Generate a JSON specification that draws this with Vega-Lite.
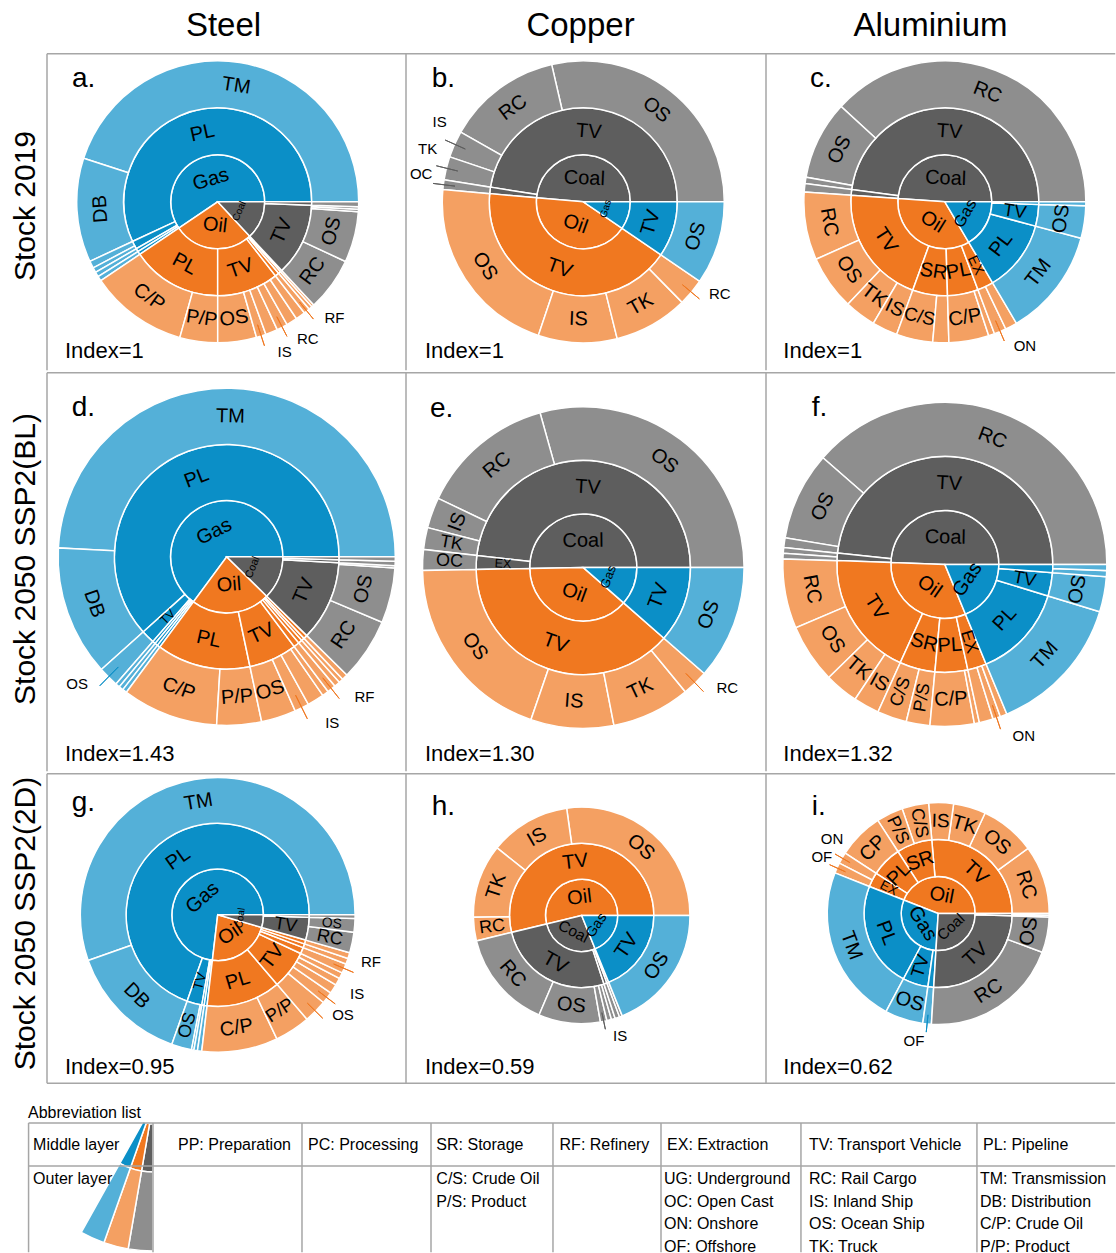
{
"$schema": "https://vega.github.io/schema/vega-lite/v6.json",
"padding": 0,
"background": "white",
"config": {"view": {"stroke": null}, "font": "Liberation Sans", "text": {"font": "Liberation Sans", "color": "black"}},
"datasets": {
"panels": [
{"p":"a","letter":"a.","idx":1,"ilab":"Index=1"},
{"p":"b","letter":"b.","idx":1,"ilab":"Index=1"},
{"p":"c","letter":"c.","idx":1,"ilab":"Index=1"},
{"p":"d","letter":"d.","idx":1.43,"ilab":"Index=1.43"},
{"p":"e","letter":"e.","idx":1.30,"ilab":"Index=1.30"},
{"p":"f","letter":"f.","idx":1.32,"ilab":"Index=1.32"},
{"p":"g","letter":"g.","idx":0.95,"ilab":"Index=0.95"},
{"p":"h","letter":"h.","idx":0.59,"ilab":"Index=0.59"},
{"p":"i","letter":"i.","idx":0.62,"ilab":"Index=0.62"}
],
"icon": [
{"lvl":2,"fuel":"Coal","v":1},{"lvl":2,"fuel":"Oil","v":1},{"lvl":2,"fuel":"Gas","v":1},
{"lvl":3,"fuel":"Coal","v":1},{"lvl":3,"fuel":"Oil","v":1},{"lvl":3,"fuel":"Gas","v":1}
],
"segs": [
{"p":"a","lvl":1,"fuel":"Gas","lab":"Gas","v":59.44},
{"p":"a","lvl":1,"fuel":"Oil","lab":"Oil","v":27.5},
{"p":"a","lvl":1,"fuel":"Coal","lab":"Coal","v":13.06},
{"p":"a","lvl":2,"fuel":"Gas","lab":"PL","v":56.94},
{"p":"a","lvl":2,"fuel":"Gas","v":1.39},
{"p":"a","lvl":2,"fuel":"Gas","v":0.56},
{"p":"a","lvl":2,"fuel":"Gas","v":0.56},
{"p":"a","lvl":2,"fuel":"Oil","lab":"PL","v":15.56},
{"p":"a","lvl":2,"fuel":"Oil","lab":"TV","v":10.56},
{"p":"a","lvl":2,"fuel":"Oil","v":0.69},
{"p":"a","lvl":2,"fuel":"Oil","v":0.42},
{"p":"a","lvl":2,"fuel":"Oil","v":0.28},
{"p":"a","lvl":2,"fuel":"Coal","lab":"TV","v":12.5},
{"p":"a","lvl":2,"fuel":"Coal","v":0.56},
{"p":"a","lvl":3,"fuel":"Gas","lab":"TM","v":45},
{"p":"a","lvl":3,"fuel":"Gas","lab":"DB","v":11.94},
{"p":"a","lvl":3,"fuel":"Gas","v":0.83},
{"p":"a","lvl":3,"fuel":"Gas","v":0.56},
{"p":"a","lvl":3,"fuel":"Gas","v":0.56},
{"p":"a","lvl":3,"fuel":"Gas","v":0.56},
{"p":"a","lvl":3,"fuel":"Oil","lab":"C/P","v":11.22},
{"p":"a","lvl":3,"fuel":"Oil","lab":"P/P","v":4.33},
{"p":"a","lvl":3,"fuel":"Oil","lab":"OS","v":4.44},
{"p":"a","lvl":3,"fuel":"Oil","co":"IS","v":1.11},
{"p":"a","lvl":3,"fuel":"Oil","v":1.39},
{"p":"a","lvl":3,"fuel":"Oil","co":"RC","v":1.25},
{"p":"a","lvl":3,"fuel":"Oil","v":1.25},
{"p":"a","lvl":3,"fuel":"Oil","v":1.11},
{"p":"a","lvl":3,"fuel":"Oil","co":"RF","v":0.69},
{"p":"a","lvl":3,"fuel":"Oil","v":0.42},
{"p":"a","lvl":3,"fuel":"Oil","v":0.28},
{"p":"a","lvl":3,"fuel":"Coal","lab":"RC","v":6.11},
{"p":"a","lvl":3,"fuel":"Coal","lab":"OS","v":5.83},
{"p":"a","lvl":3,"fuel":"Coal","v":0.28},
{"p":"a","lvl":3,"fuel":"Coal","v":0.28},
{"p":"a","lvl":3,"fuel":"Coal","v":0.56},

{"p":"b","lvl":1,"fuel":"Coal","lab":"Coal","v":48.61},
{"p":"b","lvl":1,"fuel":"Oil","lab":"Oil","v":41.86},
{"p":"b","lvl":1,"fuel":"Gas","lab":"Gas","v":9.53},
{"p":"b","lvl":2,"fuel":"Coal","lab":"TV","v":47.5},
{"p":"b","lvl":2,"fuel":"Coal","v":1.11},
{"p":"b","lvl":2,"fuel":"Oil","lab":"TV","v":41.86},
{"p":"b","lvl":2,"fuel":"Gas","lab":"TV","v":9.53},
{"p":"b","lvl":3,"fuel":"Coal","lab":"OS","v":28.61},
{"p":"b","lvl":3,"fuel":"Coal","lab":"RC","v":13.17},
{"p":"b","lvl":3,"fuel":"Coal","co":"IS","v":3.06},
{"p":"b","lvl":3,"fuel":"Coal","co":"TK","v":2.67},
{"p":"b","lvl":3,"fuel":"Coal","co":"OC","v":1.11},
{"p":"b","lvl":3,"fuel":"Oil","lab":"OS","v":21.22},
{"p":"b","lvl":3,"fuel":"Oil","lab":"IS","v":9.03},
{"p":"b","lvl":3,"fuel":"Oil","lab":"TK","v":8.5},
{"p":"b","lvl":3,"fuel":"Oil","co":"RC","v":3.11},
{"p":"b","lvl":3,"fuel":"Gas","lab":"OS","v":9.53},

{"p":"c","lvl":1,"fuel":"Coal","lab":"Coal","v":48.89},
{"p":"c","lvl":1,"fuel":"Oil","lab":"Oil","v":34.58},
{"p":"c","lvl":1,"fuel":"Gas","lab":"Gas","v":16.53},
{"p":"c","lvl":2,"fuel":"Coal","lab":"TV","v":47.92},
{"p":"c","lvl":2,"fuel":"Coal","v":0.97},
{"p":"c","lvl":2,"fuel":"Oil","lab":"TV","v":20.56},
{"p":"c","lvl":2,"fuel":"Oil","lab":"SR","v":6.0},
{"p":"c","lvl":2,"fuel":"Oil","lab":"PL","v":5.28},
{"p":"c","lvl":2,"fuel":"Oil","lab":"EX","v":2.75},
{"p":"c","lvl":2,"fuel":"Gas","lab":"PL","v":12.36},
{"p":"c","lvl":2,"fuel":"Gas","lab":"TV","v":3.72},
{"p":"c","lvl":2,"fuel":"Gas","v":0.44},
{"p":"c","lvl":3,"fuel":"Coal","lab":"RC","v":38.17},
{"p":"c","lvl":3,"fuel":"Coal","lab":"OS","v":9.03},
{"p":"c","lvl":3,"fuel":"Coal","v":0.72},
{"p":"c","lvl":3,"fuel":"Coal","v":0.97},
{"p":"c","lvl":3,"fuel":"Oil","lab":"RC","v":7.78},
{"p":"c","lvl":3,"fuel":"Oil","lab":"OS","v":6.25},
{"p":"c","lvl":3,"fuel":"Oil","lab":"TK","v":3.61},
{"p":"c","lvl":3,"fuel":"Oil","lab":"IS","v":2.92},
{"p":"c","lvl":3,"fuel":"Oil","lab":"C/S","v":4.17},
{"p":"c","lvl":3,"fuel":"Oil","v":1.83},
{"p":"c","lvl":3,"fuel":"Oil","lab":"C/P","v":4.58},
{"p":"c","lvl":3,"fuel":"Oil","v":0.69},
{"p":"c","lvl":3,"fuel":"Oil","co":"ON","v":1.39},
{"p":"c","lvl":3,"fuel":"Oil","v":1.36},
{"p":"c","lvl":3,"fuel":"Gas","lab":"TM","v":12.36},
{"p":"c","lvl":3,"fuel":"Gas","lab":"OS","v":3.72},
{"p":"c","lvl":3,"fuel":"Gas","v":0.44},

{"p":"d","lvl":1,"fuel":"Gas","lab":"Gas","v":64.86},
{"p":"d","lvl":1,"fuel":"Oil","lab":"Oil","v":22.78},
{"p":"d","lvl":1,"fuel":"Coal","lab":"Coal","v":12.36},
{"p":"d","lvl":2,"fuel":"Gas","lab":"PL","v":61.67},
{"p":"d","lvl":2,"fuel":"Gas","lab":"TV","v":1.94},
{"p":"d","lvl":2,"fuel":"Gas","v":0.42},
{"p":"d","lvl":2,"fuel":"Gas","v":0.42},
{"p":"d","lvl":2,"fuel":"Gas","v":0.42},
{"p":"d","lvl":2,"fuel":"Oil","lab":"PL","v":13.47},
{"p":"d","lvl":2,"fuel":"Oil","lab":"TV","v":6.94},
{"p":"d","lvl":2,"fuel":"Oil","v":0.83},
{"p":"d","lvl":2,"fuel":"Oil","v":0.56},
{"p":"d","lvl":2,"fuel":"Oil","v":0.42},
{"p":"d","lvl":2,"fuel":"Oil","v":0.56},
{"p":"d","lvl":2,"fuel":"Coal","lab":"TV","v":11.53},
{"p":"d","lvl":2,"fuel":"Coal","v":0.42},
{"p":"d","lvl":2,"fuel":"Coal","v":0.42},
{"p":"d","lvl":3,"fuel":"Gas","lab":"TM","v":49.17},
{"p":"d","lvl":3,"fuel":"Gas","lab":"DB","v":12.5},
{"p":"d","lvl":3,"fuel":"Gas","co":"OS","v":1.94},
{"p":"d","lvl":3,"fuel":"Gas","v":0.42},
{"p":"d","lvl":3,"fuel":"Gas","v":0.42},
{"p":"d","lvl":3,"fuel":"Gas","v":0.42},
{"p":"d","lvl":3,"fuel":"Oil","lab":"C/P","v":9.19},
{"p":"d","lvl":3,"fuel":"Oil","lab":"P/P","v":4.28},
{"p":"d","lvl":3,"fuel":"Oil","lab":"OS","v":3.33},
{"p":"d","lvl":3,"fuel":"Oil","co":"IS","v":1.39},
{"p":"d","lvl":3,"fuel":"Oil","v":1.61},
{"p":"d","lvl":3,"fuel":"Oil","v":0.61},
{"p":"d","lvl":3,"fuel":"Oil","co":"RF","v":0.83},
{"p":"d","lvl":3,"fuel":"Oil","v":0.56},
{"p":"d","lvl":3,"fuel":"Oil","v":0.42},
{"p":"d","lvl":3,"fuel":"Oil","v":0.56},
{"p":"d","lvl":3,"fuel":"Coal","lab":"RC","v":6.03},
{"p":"d","lvl":3,"fuel":"Coal","lab":"OS","v":5.28},
{"p":"d","lvl":3,"fuel":"Coal","v":0.22},
{"p":"d","lvl":3,"fuel":"Coal","v":0.42},
{"p":"d","lvl":3,"fuel":"Coal","v":0.42},

{"p":"e","lvl":1,"fuel":"Coal","lab":"Coal","v":50.28},
{"p":"e","lvl":1,"fuel":"Oil","lab":"Oil","v":38.28},
{"p":"e","lvl":1,"fuel":"Gas","lab":"Gas","v":11.44},
{"p":"e","lvl":2,"fuel":"Coal","lab":"TV","v":48.19},
{"p":"e","lvl":2,"fuel":"Coal","lab":"EX","v":2.08},
{"p":"e","lvl":2,"fuel":"Oil","lab":"TV","v":38.28},
{"p":"e","lvl":2,"fuel":"Gas","lab":"TV","v":11.44},
{"p":"e","lvl":3,"fuel":"Coal","lab":"OS","v":29.33},
{"p":"e","lvl":3,"fuel":"Coal","lab":"RC","v":13.58},
{"p":"e","lvl":3,"fuel":"Coal","lab":"IS","v":3.08},
{"p":"e","lvl":3,"fuel":"Coal","lab":"TK","v":2.19},
{"p":"e","lvl":3,"fuel":"Coal","lab":"OC","v":2.08},
{"p":"e","lvl":3,"fuel":"Oil","lab":"OS","v":19.44},
{"p":"e","lvl":3,"fuel":"Oil","lab":"IS","v":8.33},
{"p":"e","lvl":3,"fuel":"Oil","lab":"TK","v":7.89},
{"p":"e","lvl":3,"fuel":"Oil","co":"RC","v":2.61},
{"p":"e","lvl":3,"fuel":"Gas","lab":"OS","v":11.44},

{"p":"f","lvl":1,"fuel":"Coal","lab":"Coal","v":49.44},
{"p":"f","lvl":1,"fuel":"Oil","lab":"Oil","v":31.81},
{"p":"f","lvl":1,"fuel":"Gas","lab":"Gas","v":18.75},
{"p":"f","lvl":2,"fuel":"Coal","lab":"TV","v":48.33},
{"p":"f","lvl":2,"fuel":"Coal","v":1.11},
{"p":"f","lvl":2,"fuel":"Oil","lab":"TV","v":18.78},
{"p":"f","lvl":2,"fuel":"Oil","lab":"SR","v":5.31},
{"p":"f","lvl":2,"fuel":"Oil","lab":"PL","v":4.89},
{"p":"f","lvl":2,"fuel":"Oil","lab":"EX","v":2.83},
{"p":"f","lvl":2,"fuel":"Gas","lab":"PL","v":14.03},
{"p":"f","lvl":2,"fuel":"Gas","lab":"TV","v":3.5},
{"p":"f","lvl":2,"fuel":"Gas","v":1.22},
{"p":"f","lvl":3,"fuel":"Coal","lab":"RC","v":38.56},
{"p":"f","lvl":3,"fuel":"Coal","lab":"OS","v":8.81},
{"p":"f","lvl":3,"fuel":"Coal","v":0.97},
{"p":"f","lvl":3,"fuel":"Coal","v":0.56},
{"p":"f","lvl":3,"fuel":"Coal","v":0.56},
{"p":"f","lvl":3,"fuel":"Oil","lab":"RC","v":6.94},
{"p":"f","lvl":3,"fuel":"Oil","lab":"OS","v":5.89},
{"p":"f","lvl":3,"fuel":"Oil","lab":"TK","v":3.36},
{"p":"f","lvl":3,"fuel":"Oil","lab":"IS","v":2.58},
{"p":"f","lvl":3,"fuel":"Oil","lab":"C/S","v":2.94},
{"p":"f","lvl":3,"fuel":"Oil","lab":"P/S","v":2.36},
{"p":"f","lvl":3,"fuel":"Oil","lab":"C/P","v":4.39},
{"p":"f","lvl":3,"fuel":"Oil","v":0.5},
{"p":"f","lvl":3,"fuel":"Oil","v":1.39},
{"p":"f","lvl":3,"fuel":"Oil","co":"ON","v":0.75},
{"p":"f","lvl":3,"fuel":"Oil","v":0.69},
{"p":"f","lvl":3,"fuel":"Gas","lab":"TM","v":14.03},
{"p":"f","lvl":3,"fuel":"Gas","lab":"OS","v":3.5},
{"p":"f","lvl":3,"fuel":"Gas","v":0.61},
{"p":"f","lvl":3,"fuel":"Gas","v":0.61},

{"p":"g","lvl":1,"fuel":"Gas","lab":"Gas","v":73.14},
{"p":"g","lvl":1,"fuel":"Oil","lab":"Oil","v":22.42},
{"p":"g","lvl":1,"fuel":"Coal","lab":"Coal","v":4.44},
{"p":"g","lvl":2,"fuel":"Gas","lab":"PL","v":69.58},
{"p":"g","lvl":2,"fuel":"Gas","lab":"TV","v":2.64},
{"p":"g","lvl":2,"fuel":"Gas","v":0.42},
{"p":"g","lvl":2,"fuel":"Gas","v":0.5},
{"p":"g","lvl":2,"fuel":"Oil","lab":"PL","v":13.11},
{"p":"g","lvl":2,"fuel":"Oil","lab":"TV","v":6.81},
{"p":"g","lvl":2,"fuel":"Oil","v":1.11},
{"p":"g","lvl":2,"fuel":"Oil","v":0.69},
{"p":"g","lvl":2,"fuel":"Oil","v":0.69},
{"p":"g","lvl":2,"fuel":"Coal","lab":"TV","v":4.03},
{"p":"g","lvl":2,"fuel":"Coal","v":0.42},
{"p":"g","lvl":3,"fuel":"Gas","lab":"TM","v":55.39},
{"p":"g","lvl":3,"fuel":"Gas","lab":"DB","v":14.19},
{"p":"g","lvl":3,"fuel":"Gas","lab":"OS","v":2.36},
{"p":"g","lvl":3,"fuel":"Gas","v":0.28},
{"p":"g","lvl":3,"fuel":"Gas","v":0.42},
{"p":"g","lvl":3,"fuel":"Gas","v":0.5},
{"p":"g","lvl":3,"fuel":"Oil","lab":"C/P","v":8.94},
{"p":"g","lvl":3,"fuel":"Oil","lab":"P/P","v":4.17},
{"p":"g","lvl":3,"fuel":"Oil","co":"OS","v":2.72},
{"p":"g","lvl":3,"fuel":"Oil","co":"IS","v":1.39},
{"p":"g","lvl":3,"fuel":"Oil","v":1.11},
{"p":"g","lvl":3,"fuel":"Oil","v":0.86},
{"p":"g","lvl":3,"fuel":"Oil","v":0.72},
{"p":"g","lvl":3,"fuel":"Oil","co":"RF","v":1.11},
{"p":"g","lvl":3,"fuel":"Oil","v":0.69},
{"p":"g","lvl":3,"fuel":"Oil","v":0.69},
{"p":"g","lvl":3,"fuel":"Coal","lab":"RC","v":2.42},
{"p":"g","lvl":3,"fuel":"Coal","lab":"OS","v":1.61},
{"p":"g","lvl":3,"fuel":"Coal","v":0.42},

{"p":"h","lvl":1,"fuel":"Oil","lab":"Oil","v":53.78},
{"p":"h","lvl":1,"fuel":"Coal","lab":"Coal","v":27.33},
{"p":"h","lvl":1,"fuel":"Gas","lab":"Gas","v":18.89},
{"p":"h","lvl":2,"fuel":"Oil","lab":"TV","v":53.78},
{"p":"h","lvl":2,"fuel":"Coal","lab":"TV","v":26.22},
{"p":"h","lvl":2,"fuel":"Coal","v":0.69},
{"p":"h","lvl":2,"fuel":"Coal","v":0.42},
{"p":"h","lvl":2,"fuel":"Gas","lab":"TV","v":18.89},
{"p":"h","lvl":3,"fuel":"Oil","lab":"OS","v":27.22},
{"p":"h","lvl":3,"fuel":"Oil","lab":"IS","v":12.06},
{"p":"h","lvl":3,"fuel":"Oil","lab":"TK","v":11},
{"p":"h","lvl":3,"fuel":"Oil","lab":"RC","v":3.5},
{"p":"h","lvl":3,"fuel":"Coal","lab":"RC","v":14.78},
{"p":"h","lvl":3,"fuel":"Coal","lab":"OS","v":9.22},
{"p":"h","lvl":3,"fuel":"Coal","co":"IS","v":0.97},
{"p":"h","lvl":3,"fuel":"Coal","v":0.69},
{"p":"h","lvl":3,"fuel":"Coal","v":0.56},
{"p":"h","lvl":3,"fuel":"Coal","v":0.69},
{"p":"h","lvl":3,"fuel":"Coal","v":0.42},
{"p":"h","lvl":3,"fuel":"Gas","lab":"OS","v":18.89},

{"p":"i","lvl":1,"fuel":"Oil","lab":"Oil","v":44.03},
{"p":"i","lvl":1,"fuel":"Gas","lab":"Gas","v":30},
{"p":"i","lvl":1,"fuel":"Coal","lab":"Coal","v":25.97},
{"p":"i","lvl":2,"fuel":"Oil","lab":"TV","v":26.39},
{"p":"i","lvl":2,"fuel":"Oil","lab":"SR","v":7.78},
{"p":"i","lvl":2,"fuel":"Oil","lab":"PL","v":6.67},
{"p":"i","lvl":2,"fuel":"Oil","lab":"EX","v":3.19},
{"p":"i","lvl":2,"fuel":"Gas","lab":"PL","v":23.19},
{"p":"i","lvl":2,"fuel":"Gas","lab":"TV","v":5.56},
{"p":"i","lvl":2,"fuel":"Gas","v":1.25},
{"p":"i","lvl":2,"fuel":"Coal","lab":"TV","v":25.5},
{"p":"i","lvl":2,"fuel":"Coal","v":0.47},
{"p":"i","lvl":3,"fuel":"Oil","lab":"RC","v":10},
{"p":"i","lvl":3,"fuel":"Oil","lab":"OS","v":8.06},
{"p":"i","lvl":3,"fuel":"Oil","lab":"TK","v":4.72},
{"p":"i","lvl":3,"fuel":"Oil","lab":"IS","v":3.61},
{"p":"i","lvl":3,"fuel":"Oil","lab":"C/S","v":3.89},
{"p":"i","lvl":3,"fuel":"Oil","lab":"P/S","v":3.89},
{"p":"i","lvl":3,"fuel":"Oil","lab":"CP","v":6.67},
{"p":"i","lvl":3,"fuel":"Oil","co":"ON","v":1.67},
{"p":"i","lvl":3,"fuel":"Oil","co":"OF","v":1.53},
{"p":"i","lvl":3,"fuel":"Gas","lab":"TM","v":23.19},
{"p":"i","lvl":3,"fuel":"Gas","lab":"OS","v":5.56},
{"p":"i","lvl":3,"fuel":"Gas","co":"OF","v":1.25},
{"p":"i","lvl":3,"fuel":"Coal","lab":"RC","v":20.31},
{"p":"i","lvl":3,"fuel":"Coal","lab":"OS","v":5.19},
{"p":"i","lvl":3,"fuel":"Coal","v":0.24},
{"p":"i","lvl":3,"fuel":"Coal","v":0.24}
]
},
"data": {"name": "segs"},
"transform": [
{"lookup": "p", "from": {"data": {"name": "panels"}, "key": "p", "fields": ["idx"]}},
{"window": [{"op": "sum", "field": "v", "as": "cum"}], "groupby": ["p", "lvl"], "frame": [null, 0]},
{"joinaggregate": [{"op": "sum", "field": "v", "as": "tot"}], "groupby": ["p", "lvl"]},
{"calculate": "360 * (datum.cum - datum.v) / datum.tot", "as": "t0"},
{"calculate": "360 * datum.cum / datum.tot", "as": "t1"},
{"calculate": "(datum.t0 + datum.t1) / 2", "as": "tm"},
{"calculate": "datum.lvl - 1", "as": "ri"},
{"calculate": "datum.lvl - 0.5", "as": "rm"},
{"calculate": "47 * sqrt(datum.idx)", "as": "rw"},
{"calculate": "(datum.t1 - datum.t0) * PI / 180 * datum.rm * datum.rw", "as": "apx"},
{"calculate": "datum.lab ? length(datum.lab) : 1", "as": "n"},
{"calculate": "datum.lvl > 1 && datum.apx < 10 * datum.n", "as": "rad"},
{"calculate": "datum.rad ? (datum.tm < 90 ? -datum.tm : (datum.tm < 270 ? 180 - datum.tm : 360 - datum.tm)) : (datum.tm <= 185 ? 90 - datum.tm : 270 - datum.tm)", "as": "rot"},
{"calculate": "datum.lvl == 1 ? clamp(datum.apx / (0.5 * datum.n), 10, 20) : (datum.rad ? clamp(min(datum.apx * 1.2, datum.rw / (0.6 * datum.n)), 9, 18) : clamp(datum.apx / (0.55 * datum.n), 9, 20))", "as": "fs"},
{"calculate": "datum.tm + (datum.tm >= 270 ? 6 : -5)", "as": "la"}
],
"spacing": 0,
"vconcat": [
{"hconcat": [
 {"width": 47, "height": 53, "data": {"values": [{}]}, "mark": {"type": "text", "text": ""}},
 {"width": 359, "height": 53, "data": {"values": [{}]}, "mark": {"type": "text", "text": "Steel", "fontSize": 33, "dx": -3, "dy": -0.5}},
 {"width": 360, "height": 53, "data": {"values": [{}]}, "mark": {"type": "text", "text": "Copper", "fontSize": 33, "dx": -5.5, "dy": -0.5}},
 {"width": 350, "height": 53, "data": {"values": [{}]}, "mark": {"type": "text", "text": "Aluminium", "fontSize": 33, "dx": -10.5, "dy": -0.5}}
], "spacing": 0, "bounds": "flush"},

{"hconcat": [
 {"width": 47, "height": 318, "data": {"values": [{}]}, "mark": {"type": "text", "text": "Stock 2019", "fontSize": 30, "angle": 270, "dx": 6, "dy": 2.5}},
 {"width": 359, "height": 318, "layer": [
  {"transform": [{"filter": "datum.p == 'a'"}],
   "encoding": {"x": {"datum": 0.4755, "type": "quantitative", "scale": {"domain": [0, 1], "nice": false}, "axis": null}, "y": {"datum": 0.532, "type": "quantitative", "scale": {"domain": [0, 1], "nice": false}, "axis": null}},
   "layer": [
    {"mark": {"type": "arc", "stroke": "white", "strokeWidth": 1.5},
     "encoding": {"theta": {"field": "t0", "type": "quantitative", "stack": null, "scale": {"domain": [0, 360], "range": [1.5707963, -4.712389], "nice": false}}, "theta2": {"field": "t1"},
      "radius": {"field": "lvl", "type": "quantitative", "scale": {"type": "linear", "domain": [0, 3], "range": [0, 141], "nice": false}}, "radius2": {"field": "ri"},
      "color": {"field": "fuel", "type": "nominal", "scale": {"domain": ["Gas", "Oil", "Coal"], "range": ["#0b8fc7", "#f07820", "#5e5e5e"]}, "legend": null},
      "fillOpacity": {"condition": {"test": "datum.lvl == 3", "value": 0.7}, "value": 1}}},
    {"transform": [{"filter": "datum.lab"}], "mark": {"type": "text", "align": "center", "baseline": "middle"},
     "encoding": {"theta": {"field": "tm", "type": "quantitative", "scale": {"domain": [0, 360], "range": [1.5707963, -4.712389], "nice": false}},
      "radius": {"field": "rm", "type": "quantitative", "scale": {"type": "linear", "domain": [0, 3], "range": [0, 141], "nice": false}},
      "text": {"field": "lab"}, "angle": {"field": "rot", "type": "quantitative", "scale": null}, "size": {"field": "fs", "type": "quantitative", "scale": null}}},
    {"transform": [{"filter": "datum.co"}], "mark": {"type": "arc", "filled": false, "strokeWidth": 1},
     "encoding": {"theta": {"field": "tm", "type": "quantitative", "stack": null, "scale": {"domain": [0, 360], "range": [1.5707963, -4.712389], "nice": false}}, "theta2": {"field": "tm"},
      "radius": {"datum": 3.22, "type": "quantitative", "scale": {"type": "linear", "domain": [0, 3], "range": [0, 141], "nice": false}}, "radius2": {"datum": 2.75},
      "color": {"field": "fuel", "type": "nominal", "scale": {"domain": ["Gas", "Oil", "Coal"], "range": ["#0b8fc7", "#f07820", "#5e5e5e"]}, "legend": null}}},
    {"transform": [{"filter": "datum.co"}, {"window": [{"op": "lag", "field": "tm", "as": "ptm"}], "groupby": ["p"], "sort": [{"field": "tm"}]}, {"calculate": "datum.ptm == null ? 99 : datum.tm - datum.ptm", "as": "gap"}, {"calculate": "datum.la + (datum.gap < 9 ? 9 - datum.gap : 0)", "as": "la2"}],
     "mark": {"type": "text", "fontSize": 15, "align": "center", "baseline": "middle"},
     "encoding": {"theta": {"field": "la2", "type": "quantitative", "scale": {"domain": [0, 360], "range": [1.5707963, -4.712389], "nice": false}},
      "radius": {"datum": 3.5, "type": "quantitative", "scale": {"type": "linear", "domain": [0, 3], "range": [0, 141], "nice": false}}, "text": {"field": "co"}}}
   ]},
  {"data": {"values": [{}]}, "mark": {"type": "rule", "color": "#a6a6a6", "strokeWidth": 1.5}, "encoding": {"x": {"datum": 0, "type": "quantitative", "scale": {"domain": [0, 1], "nice": false}, "axis": null}, "y": {"datum": 0.00236, "type": "quantitative", "scale": {"domain": [0, 1], "nice": false}, "axis": null}, "y2": {"datum": 0.99764}}},
  {"data": {"values": [{}]}, "mark": {"type": "rule", "color": "#a6a6a6", "strokeWidth": 1.5}, "encoding": {"x": {"datum": 0, "type": "quantitative", "scale": {"domain": [0, 1], "nice": false}, "axis": null}, "x2": {"datum": 1}, "y": {"datum": 0.99764, "type": "quantitative", "scale": {"domain": [0, 1], "nice": false}, "axis": null}}},
  {"data": {"name": "panels"}, "transform": [{"filter": "datum.p == 'a'"}], "layer": [
   {"mark": {"type": "text", "fontSize": 28, "align": "left", "baseline": "alphabetic"}, "encoding": {"x": {"datum": 0.0696, "type": "quantitative", "scale": {"domain": [0, 1], "nice": false}, "axis": null}, "y": {"datum": 0.892, "type": "quantitative", "scale": {"domain": [0, 1], "nice": false}, "axis": null}, "text": {"field": "letter"}}},
   {"mark": {"type": "text", "fontSize": 22, "align": "left", "baseline": "alphabetic"}, "encoding": {"x": {"datum": 0.05, "type": "quantitative", "scale": {"domain": [0, 1], "nice": false}, "axis": null}, "y": {"datum": 0.04, "type": "quantitative", "scale": {"domain": [0, 1], "nice": false}, "axis": null}, "text": {"field": "ilab"}}}
  ]}
 ]},
 {"width": 360, "height": 318, "layer": [
  {"transform": [{"filter": "datum.p == 'b'"}],
   "encoding": {"x": {"datum": 0.4925, "type": "quantitative", "scale": {"domain": [0, 1], "nice": false}, "axis": null}, "y": {"datum": 0.532, "type": "quantitative", "scale": {"domain": [0, 1], "nice": false}, "axis": null}},
   "layer": [
    {"mark": {"type": "arc", "stroke": "white", "strokeWidth": 1.5},
     "encoding": {"theta": {"field": "t0", "type": "quantitative", "stack": null, "scale": {"domain": [0, 360], "range": [1.5707963, -4.712389], "nice": false}}, "theta2": {"field": "t1"},
      "radius": {"field": "lvl", "type": "quantitative", "scale": {"type": "linear", "domain": [0, 3], "range": [0, 141], "nice": false}}, "radius2": {"field": "ri"},
      "color": {"field": "fuel", "type": "nominal", "scale": {"domain": ["Gas", "Oil", "Coal"], "range": ["#0b8fc7", "#f07820", "#5e5e5e"]}, "legend": null},
      "fillOpacity": {"condition": {"test": "datum.lvl == 3", "value": 0.7}, "value": 1}}},
    {"transform": [{"filter": "datum.lab"}], "mark": {"type": "text", "align": "center", "baseline": "middle"},
     "encoding": {"theta": {"field": "tm", "type": "quantitative", "scale": {"domain": [0, 360], "range": [1.5707963, -4.712389], "nice": false}},
      "radius": {"field": "rm", "type": "quantitative", "scale": {"type": "linear", "domain": [0, 3], "range": [0, 141], "nice": false}},
      "text": {"field": "lab"}, "angle": {"field": "rot", "type": "quantitative", "scale": null}, "size": {"field": "fs", "type": "quantitative", "scale": null}}},
    {"transform": [{"filter": "datum.co"}], "mark": {"type": "arc", "filled": false, "strokeWidth": 1},
     "encoding": {"theta": {"field": "tm", "type": "quantitative", "stack": null, "scale": {"domain": [0, 360], "range": [1.5707963, -4.712389], "nice": false}}, "theta2": {"field": "tm"},
      "radius": {"datum": 3.22, "type": "quantitative", "scale": {"type": "linear", "domain": [0, 3], "range": [0, 141], "nice": false}}, "radius2": {"datum": 2.75},
      "color": {"field": "fuel", "type": "nominal", "scale": {"domain": ["Gas", "Oil", "Coal"], "range": ["#0b8fc7", "#f07820", "#5e5e5e"]}, "legend": null}}},
    {"transform": [{"filter": "datum.co"}, {"window": [{"op": "lag", "field": "tm", "as": "ptm"}], "groupby": ["p"], "sort": [{"field": "tm"}]}, {"calculate": "datum.ptm == null ? 99 : datum.tm - datum.ptm", "as": "gap"}, {"calculate": "datum.la + (datum.gap < 9 ? 9 - datum.gap : 0)", "as": "la2"}],
     "mark": {"type": "text", "fontSize": 15, "align": "center", "baseline": "middle"},
     "encoding": {"theta": {"field": "la2", "type": "quantitative", "scale": {"domain": [0, 360], "range": [1.5707963, -4.712389], "nice": false}},
      "radius": {"datum": 3.5, "type": "quantitative", "scale": {"type": "linear", "domain": [0, 3], "range": [0, 141], "nice": false}}, "text": {"field": "co"}}}
   ]},
  {"data": {"values": [{}]}, "mark": {"type": "rule", "color": "#a6a6a6", "strokeWidth": 1.5}, "encoding": {"x": {"datum": 0, "type": "quantitative", "scale": {"domain": [0, 1], "nice": false}, "axis": null}, "y": {"datum": 0.00236, "type": "quantitative", "scale": {"domain": [0, 1], "nice": false}, "axis": null}, "y2": {"datum": 0.99764}}},
  {"data": {"values": [{}]}, "mark": {"type": "rule", "color": "#a6a6a6", "strokeWidth": 1.5}, "encoding": {"x": {"datum": 0, "type": "quantitative", "scale": {"domain": [0, 1], "nice": false}, "axis": null}, "x2": {"datum": 1}, "y": {"datum": 0.99764, "type": "quantitative", "scale": {"domain": [0, 1], "nice": false}, "axis": null}}},
  {"data": {"name": "panels"}, "transform": [{"filter": "datum.p == 'b'"}], "layer": [
   {"mark": {"type": "text", "fontSize": 28, "align": "left", "baseline": "alphabetic"}, "encoding": {"x": {"datum": 0.0714, "type": "quantitative", "scale": {"domain": [0, 1], "nice": false}, "axis": null}, "y": {"datum": 0.892, "type": "quantitative", "scale": {"domain": [0, 1], "nice": false}, "axis": null}, "text": {"field": "letter"}}},
   {"mark": {"type": "text", "fontSize": 22, "align": "left", "baseline": "alphabetic"}, "encoding": {"x": {"datum": 0.0528, "type": "quantitative", "scale": {"domain": [0, 1], "nice": false}, "axis": null}, "y": {"datum": 0.04, "type": "quantitative", "scale": {"domain": [0, 1], "nice": false}, "axis": null}, "text": {"field": "ilab"}}}
  ]}
 ]},
 {"width": 350, "height": 318, "layer": [
  {"transform": [{"filter": "datum.p == 'c'"}],
   "encoding": {"x": {"datum": 0.511, "type": "quantitative", "scale": {"domain": [0, 1], "nice": false}, "axis": null}, "y": {"datum": 0.532, "type": "quantitative", "scale": {"domain": [0, 1], "nice": false}, "axis": null}},
   "layer": [
    {"mark": {"type": "arc", "stroke": "white", "strokeWidth": 1.5},
     "encoding": {"theta": {"field": "t0", "type": "quantitative", "stack": null, "scale": {"domain": [0, 360], "range": [1.5707963, -4.712389], "nice": false}}, "theta2": {"field": "t1"},
      "radius": {"field": "lvl", "type": "quantitative", "scale": {"type": "linear", "domain": [0, 3], "range": [0, 141], "nice": false}}, "radius2": {"field": "ri"},
      "color": {"field": "fuel", "type": "nominal", "scale": {"domain": ["Gas", "Oil", "Coal"], "range": ["#0b8fc7", "#f07820", "#5e5e5e"]}, "legend": null},
      "fillOpacity": {"condition": {"test": "datum.lvl == 3", "value": 0.7}, "value": 1}}},
    {"transform": [{"filter": "datum.lab"}], "mark": {"type": "text", "align": "center", "baseline": "middle"},
     "encoding": {"theta": {"field": "tm", "type": "quantitative", "scale": {"domain": [0, 360], "range": [1.5707963, -4.712389], "nice": false}},
      "radius": {"field": "rm", "type": "quantitative", "scale": {"type": "linear", "domain": [0, 3], "range": [0, 141], "nice": false}},
      "text": {"field": "lab"}, "angle": {"field": "rot", "type": "quantitative", "scale": null}, "size": {"field": "fs", "type": "quantitative", "scale": null}}},
    {"transform": [{"filter": "datum.co"}], "mark": {"type": "arc", "filled": false, "strokeWidth": 1},
     "encoding": {"theta": {"field": "tm", "type": "quantitative", "stack": null, "scale": {"domain": [0, 360], "range": [1.5707963, -4.712389], "nice": false}}, "theta2": {"field": "tm"},
      "radius": {"datum": 3.22, "type": "quantitative", "scale": {"type": "linear", "domain": [0, 3], "range": [0, 141], "nice": false}}, "radius2": {"datum": 2.75},
      "color": {"field": "fuel", "type": "nominal", "scale": {"domain": ["Gas", "Oil", "Coal"], "range": ["#0b8fc7", "#f07820", "#5e5e5e"]}, "legend": null}}},
    {"transform": [{"filter": "datum.co"}, {"window": [{"op": "lag", "field": "tm", "as": "ptm"}], "groupby": ["p"], "sort": [{"field": "tm"}]}, {"calculate": "datum.ptm == null ? 99 : datum.tm - datum.ptm", "as": "gap"}, {"calculate": "datum.la + (datum.gap < 9 ? 9 - datum.gap : 0)", "as": "la2"}],
     "mark": {"type": "text", "fontSize": 15, "align": "center", "baseline": "middle"},
     "encoding": {"theta": {"field": "la2", "type": "quantitative", "scale": {"domain": [0, 360], "range": [1.5707963, -4.712389], "nice": false}},
      "radius": {"datum": 3.5, "type": "quantitative", "scale": {"type": "linear", "domain": [0, 3], "range": [0, 141], "nice": false}}, "text": {"field": "co"}}}
   ]},
  {"data": {"values": [{}]}, "mark": {"type": "rule", "color": "#a6a6a6", "strokeWidth": 1.5}, "encoding": {"x": {"datum": 0, "type": "quantitative", "scale": {"domain": [0, 1], "nice": false}, "axis": null}, "y": {"datum": 0.00236, "type": "quantitative", "scale": {"domain": [0, 1], "nice": false}, "axis": null}, "y2": {"datum": 0.99764}}},
  {"data": {"values": [{}]}, "mark": {"type": "rule", "color": "#a6a6a6", "strokeWidth": 1.5}, "encoding": {"x": {"datum": 0, "type": "quantitative", "scale": {"domain": [0, 1], "nice": false}, "axis": null}, "x2": {"datum": 0.99786}, "y": {"datum": 0.99764, "type": "quantitative", "scale": {"domain": [0, 1], "nice": false}, "axis": null}}},
  {"data": {"name": "panels"}, "transform": [{"filter": "datum.p == 'c'"}], "layer": [
   {"mark": {"type": "text", "fontSize": 28, "align": "left", "baseline": "alphabetic"}, "encoding": {"x": {"datum": 0.1257, "type": "quantitative", "scale": {"domain": [0, 1], "nice": false}, "axis": null}, "y": {"datum": 0.892, "type": "quantitative", "scale": {"domain": [0, 1], "nice": false}, "axis": null}, "text": {"field": "letter"}}},
   {"mark": {"type": "text", "fontSize": 22, "align": "left", "baseline": "alphabetic"}, "encoding": {"x": {"datum": 0.0494, "type": "quantitative", "scale": {"domain": [0, 1], "nice": false}, "axis": null}, "y": {"datum": 0.04, "type": "quantitative", "scale": {"domain": [0, 1], "nice": false}, "axis": null}, "text": {"field": "ilab"}}}
  ]}
 ]}
], "spacing": 0, "bounds": "flush"},

{"hconcat": [
 {"width": 47, "height": 400, "data": {"values": [{}]}, "mark": {"type": "text", "text": "Stock 2050 SSP2(BL)", "fontSize": 30, "angle": 270, "dx": 13, "dy": 2.5}},
 {"width": 359, "height": 400, "layer": [
  {"transform": [{"filter": "datum.p == 'd'"}],
   "encoding": {"x": {"datum": 0.5006, "type": "quantitative", "scale": {"domain": [0, 1], "nice": false}, "axis": null}, "y": {"datum": 0.538, "type": "quantitative", "scale": {"domain": [0, 1], "nice": false}, "axis": null}},
   "layer": [
    {"mark": {"type": "arc", "stroke": "white", "strokeWidth": 1.5},
     "encoding": {"theta": {"field": "t0", "type": "quantitative", "stack": null, "scale": {"domain": [0, 360], "range": [1.5707963, -4.712389], "nice": false}}, "theta2": {"field": "t1"},
      "radius": {"field": "lvl", "type": "quantitative", "scale": {"type": "linear", "domain": [0, 3], "range": [0, 168.6], "nice": false}}, "radius2": {"field": "ri"},
      "color": {"field": "fuel", "type": "nominal", "scale": {"domain": ["Gas", "Oil", "Coal"], "range": ["#0b8fc7", "#f07820", "#5e5e5e"]}, "legend": null},
      "fillOpacity": {"condition": {"test": "datum.lvl == 3", "value": 0.7}, "value": 1}}},
    {"transform": [{"filter": "datum.lab"}], "mark": {"type": "text", "align": "center", "baseline": "middle"},
     "encoding": {"theta": {"field": "tm", "type": "quantitative", "scale": {"domain": [0, 360], "range": [1.5707963, -4.712389], "nice": false}},
      "radius": {"field": "rm", "type": "quantitative", "scale": {"type": "linear", "domain": [0, 3], "range": [0, 168.6], "nice": false}},
      "text": {"field": "lab"}, "angle": {"field": "rot", "type": "quantitative", "scale": null}, "size": {"field": "fs", "type": "quantitative", "scale": null}}},
    {"transform": [{"filter": "datum.co"}], "mark": {"type": "arc", "filled": false, "strokeWidth": 1},
     "encoding": {"theta": {"field": "tm", "type": "quantitative", "stack": null, "scale": {"domain": [0, 360], "range": [1.5707963, -4.712389], "nice": false}}, "theta2": {"field": "tm"},
      "radius": {"datum": 3.22, "type": "quantitative", "scale": {"type": "linear", "domain": [0, 3], "range": [0, 168.6], "nice": false}}, "radius2": {"datum": 2.75},
      "color": {"field": "fuel", "type": "nominal", "scale": {"domain": ["Gas", "Oil", "Coal"], "range": ["#0b8fc7", "#f07820", "#5e5e5e"]}, "legend": null}}},
    {"transform": [{"filter": "datum.co"}, {"window": [{"op": "lag", "field": "tm", "as": "ptm"}], "groupby": ["p"], "sort": [{"field": "tm"}]}, {"calculate": "datum.ptm == null ? 99 : datum.tm - datum.ptm", "as": "gap"}, {"calculate": "datum.la + (datum.gap < 9 ? 9 - datum.gap : 0)", "as": "la2"}],
     "mark": {"type": "text", "fontSize": 15, "align": "center", "baseline": "middle"},
     "encoding": {"theta": {"field": "la2", "type": "quantitative", "scale": {"domain": [0, 360], "range": [1.5707963, -4.712389], "nice": false}},
      "radius": {"datum": 3.5, "type": "quantitative", "scale": {"type": "linear", "domain": [0, 3], "range": [0, 168.6], "nice": false}}, "text": {"field": "co"}}}
   ]},
  {"data": {"values": [{}]}, "mark": {"type": "rule", "color": "#a6a6a6", "strokeWidth": 1.5}, "encoding": {"x": {"datum": 0, "type": "quantitative", "scale": {"domain": [0, 1], "nice": false}, "axis": null}, "y": {"datum": 0.001875, "type": "quantitative", "scale": {"domain": [0, 1], "nice": false}, "axis": null}, "y2": {"datum": 0.998125}}},
  {"data": {"values": [{}]}, "mark": {"type": "rule", "color": "#a6a6a6", "strokeWidth": 1.5}, "encoding": {"x": {"datum": 0, "type": "quantitative", "scale": {"domain": [0, 1], "nice": false}, "axis": null}, "x2": {"datum": 1}, "y": {"datum": 0.998125, "type": "quantitative", "scale": {"domain": [0, 1], "nice": false}, "axis": null}}},
  {"data": {"name": "panels"}, "transform": [{"filter": "datum.p == 'd'"}], "layer": [
   {"mark": {"type": "text", "fontSize": 28, "align": "left", "baseline": "alphabetic"}, "encoding": {"x": {"datum": 0.0688, "type": "quantitative", "scale": {"domain": [0, 1], "nice": false}, "axis": null}, "y": {"datum": 0.89, "type": "quantitative", "scale": {"domain": [0, 1], "nice": false}, "axis": null}, "text": {"field": "letter"}}},
   {"mark": {"type": "text", "fontSize": 22, "align": "left", "baseline": "alphabetic"}, "encoding": {"x": {"datum": 0.05, "type": "quantitative", "scale": {"domain": [0, 1], "nice": false}, "axis": null}, "y": {"datum": 0.0275, "type": "quantitative", "scale": {"domain": [0, 1], "nice": false}, "axis": null}, "text": {"field": "ilab"}}}
  ]}
 ]},
 {"width": 360, "height": 400, "layer": [
  {"transform": [{"filter": "datum.p == 'e'"}],
   "encoding": {"x": {"datum": 0.4925, "type": "quantitative", "scale": {"domain": [0, 1], "nice": false}, "axis": null}, "y": {"datum": 0.511, "type": "quantitative", "scale": {"domain": [0, 1], "nice": false}, "axis": null}},
   "layer": [
    {"mark": {"type": "arc", "stroke": "white", "strokeWidth": 1.5},
     "encoding": {"theta": {"field": "t0", "type": "quantitative", "stack": null, "scale": {"domain": [0, 360], "range": [1.5707963, -4.712389], "nice": false}}, "theta2": {"field": "t1"},
      "radius": {"field": "lvl", "type": "quantitative", "scale": {"type": "linear", "domain": [0, 3], "range": [0, 160.8], "nice": false}}, "radius2": {"field": "ri"},
      "color": {"field": "fuel", "type": "nominal", "scale": {"domain": ["Gas", "Oil", "Coal"], "range": ["#0b8fc7", "#f07820", "#5e5e5e"]}, "legend": null},
      "fillOpacity": {"condition": {"test": "datum.lvl == 3", "value": 0.7}, "value": 1}}},
    {"transform": [{"filter": "datum.lab"}], "mark": {"type": "text", "align": "center", "baseline": "middle"},
     "encoding": {"theta": {"field": "tm", "type": "quantitative", "scale": {"domain": [0, 360], "range": [1.5707963, -4.712389], "nice": false}},
      "radius": {"field": "rm", "type": "quantitative", "scale": {"type": "linear", "domain": [0, 3], "range": [0, 160.8], "nice": false}},
      "text": {"field": "lab"}, "angle": {"field": "rot", "type": "quantitative", "scale": null}, "size": {"field": "fs", "type": "quantitative", "scale": null}}},
    {"transform": [{"filter": "datum.co"}], "mark": {"type": "arc", "filled": false, "strokeWidth": 1},
     "encoding": {"theta": {"field": "tm", "type": "quantitative", "stack": null, "scale": {"domain": [0, 360], "range": [1.5707963, -4.712389], "nice": false}}, "theta2": {"field": "tm"},
      "radius": {"datum": 3.22, "type": "quantitative", "scale": {"type": "linear", "domain": [0, 3], "range": [0, 160.8], "nice": false}}, "radius2": {"datum": 2.75},
      "color": {"field": "fuel", "type": "nominal", "scale": {"domain": ["Gas", "Oil", "Coal"], "range": ["#0b8fc7", "#f07820", "#5e5e5e"]}, "legend": null}}},
    {"transform": [{"filter": "datum.co"}, {"window": [{"op": "lag", "field": "tm", "as": "ptm"}], "groupby": ["p"], "sort": [{"field": "tm"}]}, {"calculate": "datum.ptm == null ? 99 : datum.tm - datum.ptm", "as": "gap"}, {"calculate": "datum.la + (datum.gap < 9 ? 9 - datum.gap : 0)", "as": "la2"}],
     "mark": {"type": "text", "fontSize": 15, "align": "center", "baseline": "middle"},
     "encoding": {"theta": {"field": "la2", "type": "quantitative", "scale": {"domain": [0, 360], "range": [1.5707963, -4.712389], "nice": false}},
      "radius": {"datum": 3.5, "type": "quantitative", "scale": {"type": "linear", "domain": [0, 3], "range": [0, 160.8], "nice": false}}, "text": {"field": "co"}}}
   ]},
  {"data": {"values": [{}]}, "mark": {"type": "rule", "color": "#a6a6a6", "strokeWidth": 1.5}, "encoding": {"x": {"datum": 0, "type": "quantitative", "scale": {"domain": [0, 1], "nice": false}, "axis": null}, "y": {"datum": 0.001875, "type": "quantitative", "scale": {"domain": [0, 1], "nice": false}, "axis": null}, "y2": {"datum": 0.998125}}},
  {"data": {"values": [{}]}, "mark": {"type": "rule", "color": "#a6a6a6", "strokeWidth": 1.5}, "encoding": {"x": {"datum": 0, "type": "quantitative", "scale": {"domain": [0, 1], "nice": false}, "axis": null}, "x2": {"datum": 1}, "y": {"datum": 0.998125, "type": "quantitative", "scale": {"domain": [0, 1], "nice": false}, "axis": null}}},
  {"data": {"name": "panels"}, "transform": [{"filter": "datum.p == 'e'"}], "layer": [
   {"mark": {"type": "text", "fontSize": 28, "align": "left", "baseline": "alphabetic"}, "encoding": {"x": {"datum": 0.0667, "type": "quantitative", "scale": {"domain": [0, 1], "nice": false}, "axis": null}, "y": {"datum": 0.8875, "type": "quantitative", "scale": {"domain": [0, 1], "nice": false}, "axis": null}, "text": {"field": "letter"}}},
   {"mark": {"type": "text", "fontSize": 22, "align": "left", "baseline": "alphabetic"}, "encoding": {"x": {"datum": 0.0528, "type": "quantitative", "scale": {"domain": [0, 1], "nice": false}, "axis": null}, "y": {"datum": 0.0275, "type": "quantitative", "scale": {"domain": [0, 1], "nice": false}, "axis": null}, "text": {"field": "ilab"}}}
  ]}
 ]},
 {"width": 350, "height": 400, "layer": [
  {"transform": [{"filter": "datum.p == 'f'"}],
   "encoding": {"x": {"datum": 0.511, "type": "quantitative", "scale": {"domain": [0, 1], "nice": false}, "axis": null}, "y": {"datum": 0.519, "type": "quantitative", "scale": {"domain": [0, 1], "nice": false}, "axis": null}},
   "layer": [
    {"mark": {"type": "arc", "stroke": "white", "strokeWidth": 1.5},
     "encoding": {"theta": {"field": "t0", "type": "quantitative", "stack": null, "scale": {"domain": [0, 360], "range": [1.5707963, -4.712389], "nice": false}}, "theta2": {"field": "t1"},
      "radius": {"field": "lvl", "type": "quantitative", "scale": {"type": "linear", "domain": [0, 3], "range": [0, 162], "nice": false}}, "radius2": {"field": "ri"},
      "color": {"field": "fuel", "type": "nominal", "scale": {"domain": ["Gas", "Oil", "Coal"], "range": ["#0b8fc7", "#f07820", "#5e5e5e"]}, "legend": null},
      "fillOpacity": {"condition": {"test": "datum.lvl == 3", "value": 0.7}, "value": 1}}},
    {"transform": [{"filter": "datum.lab"}], "mark": {"type": "text", "align": "center", "baseline": "middle"},
     "encoding": {"theta": {"field": "tm", "type": "quantitative", "scale": {"domain": [0, 360], "range": [1.5707963, -4.712389], "nice": false}},
      "radius": {"field": "rm", "type": "quantitative", "scale": {"type": "linear", "domain": [0, 3], "range": [0, 162], "nice": false}},
      "text": {"field": "lab"}, "angle": {"field": "rot", "type": "quantitative", "scale": null}, "size": {"field": "fs", "type": "quantitative", "scale": null}}},
    {"transform": [{"filter": "datum.co"}], "mark": {"type": "arc", "filled": false, "strokeWidth": 1},
     "encoding": {"theta": {"field": "tm", "type": "quantitative", "stack": null, "scale": {"domain": [0, 360], "range": [1.5707963, -4.712389], "nice": false}}, "theta2": {"field": "tm"},
      "radius": {"datum": 3.22, "type": "quantitative", "scale": {"type": "linear", "domain": [0, 3], "range": [0, 162], "nice": false}}, "radius2": {"datum": 2.75},
      "color": {"field": "fuel", "type": "nominal", "scale": {"domain": ["Gas", "Oil", "Coal"], "range": ["#0b8fc7", "#f07820", "#5e5e5e"]}, "legend": null}}},
    {"transform": [{"filter": "datum.co"}, {"window": [{"op": "lag", "field": "tm", "as": "ptm"}], "groupby": ["p"], "sort": [{"field": "tm"}]}, {"calculate": "datum.ptm == null ? 99 : datum.tm - datum.ptm", "as": "gap"}, {"calculate": "datum.la + (datum.gap < 9 ? 9 - datum.gap : 0)", "as": "la2"}],
     "mark": {"type": "text", "fontSize": 15, "align": "center", "baseline": "middle"},
     "encoding": {"theta": {"field": "la2", "type": "quantitative", "scale": {"domain": [0, 360], "range": [1.5707963, -4.712389], "nice": false}},
      "radius": {"datum": 3.5, "type": "quantitative", "scale": {"type": "linear", "domain": [0, 3], "range": [0, 162], "nice": false}}, "text": {"field": "co"}}}
   ]},
  {"data": {"values": [{}]}, "mark": {"type": "rule", "color": "#a6a6a6", "strokeWidth": 1.5}, "encoding": {"x": {"datum": 0, "type": "quantitative", "scale": {"domain": [0, 1], "nice": false}, "axis": null}, "y": {"datum": 0.001875, "type": "quantitative", "scale": {"domain": [0, 1], "nice": false}, "axis": null}, "y2": {"datum": 0.998125}}},
  {"data": {"values": [{}]}, "mark": {"type": "rule", "color": "#a6a6a6", "strokeWidth": 1.5}, "encoding": {"x": {"datum": 0, "type": "quantitative", "scale": {"domain": [0, 1], "nice": false}, "axis": null}, "x2": {"datum": 0.99786}, "y": {"datum": 0.998125, "type": "quantitative", "scale": {"domain": [0, 1], "nice": false}, "axis": null}}},
  {"data": {"name": "panels"}, "transform": [{"filter": "datum.p == 'f'"}], "layer": [
   {"mark": {"type": "text", "fontSize": 28, "align": "left", "baseline": "alphabetic"}, "encoding": {"x": {"datum": 0.1306, "type": "quantitative", "scale": {"domain": [0, 1], "nice": false}, "axis": null}, "y": {"datum": 0.89, "type": "quantitative", "scale": {"domain": [0, 1], "nice": false}, "axis": null}, "text": {"field": "letter"}}},
   {"mark": {"type": "text", "fontSize": 22, "align": "left", "baseline": "alphabetic"}, "encoding": {"x": {"datum": 0.0494, "type": "quantitative", "scale": {"domain": [0, 1], "nice": false}, "axis": null}, "y": {"datum": 0.0275, "type": "quantitative", "scale": {"domain": [0, 1], "nice": false}, "axis": null}, "text": {"field": "ilab"}}}
  ]}
 ]}
], "spacing": 0, "bounds": "flush"},

{"hconcat": [
 {"width": 47, "height": 311, "data": {"values": [{}]}, "mark": {"type": "text", "text": "Stock 2050 SSP2(2D)", "fontSize": 30, "angle": 270, "dx": 5, "dy": 2.5}},
 {"width": 359, "height": 311, "layer": [
  {"transform": [{"filter": "datum.p == 'g'"}],
   "encoding": {"x": {"datum": 0.4755, "type": "quantitative", "scale": {"domain": [0, 1], "nice": false}, "axis": null}, "y": {"datum": 0.544, "type": "quantitative", "scale": {"domain": [0, 1], "nice": false}, "axis": null}},
   "layer": [
    {"mark": {"type": "arc", "stroke": "white", "strokeWidth": 1.5},
     "encoding": {"theta": {"field": "t0", "type": "quantitative", "stack": null, "scale": {"domain": [0, 360], "range": [1.5707963, -4.712389], "nice": false}}, "theta2": {"field": "t1"},
      "radius": {"field": "lvl", "type": "quantitative", "scale": {"type": "linear", "domain": [0, 3], "range": [0, 137.4], "nice": false}}, "radius2": {"field": "ri"},
      "color": {"field": "fuel", "type": "nominal", "scale": {"domain": ["Gas", "Oil", "Coal"], "range": ["#0b8fc7", "#f07820", "#5e5e5e"]}, "legend": null},
      "fillOpacity": {"condition": {"test": "datum.lvl == 3", "value": 0.7}, "value": 1}}},
    {"transform": [{"filter": "datum.lab"}], "mark": {"type": "text", "align": "center", "baseline": "middle"},
     "encoding": {"theta": {"field": "tm", "type": "quantitative", "scale": {"domain": [0, 360], "range": [1.5707963, -4.712389], "nice": false}},
      "radius": {"field": "rm", "type": "quantitative", "scale": {"type": "linear", "domain": [0, 3], "range": [0, 137.4], "nice": false}},
      "text": {"field": "lab"}, "angle": {"field": "rot", "type": "quantitative", "scale": null}, "size": {"field": "fs", "type": "quantitative", "scale": null}}},
    {"transform": [{"filter": "datum.co"}], "mark": {"type": "arc", "filled": false, "strokeWidth": 1},
     "encoding": {"theta": {"field": "tm", "type": "quantitative", "stack": null, "scale": {"domain": [0, 360], "range": [1.5707963, -4.712389], "nice": false}}, "theta2": {"field": "tm"},
      "radius": {"datum": 3.22, "type": "quantitative", "scale": {"type": "linear", "domain": [0, 3], "range": [0, 137.4], "nice": false}}, "radius2": {"datum": 2.75},
      "color": {"field": "fuel", "type": "nominal", "scale": {"domain": ["Gas", "Oil", "Coal"], "range": ["#0b8fc7", "#f07820", "#5e5e5e"]}, "legend": null}}},
    {"transform": [{"filter": "datum.co"}, {"window": [{"op": "lag", "field": "tm", "as": "ptm"}], "groupby": ["p"], "sort": [{"field": "tm"}]}, {"calculate": "datum.ptm == null ? 99 : datum.tm - datum.ptm", "as": "gap"}, {"calculate": "datum.la + (datum.gap < 9 ? 9 - datum.gap : 0)", "as": "la2"}],
     "mark": {"type": "text", "fontSize": 15, "align": "center", "baseline": "middle"},
     "encoding": {"theta": {"field": "la2", "type": "quantitative", "scale": {"domain": [0, 360], "range": [1.5707963, -4.712389], "nice": false}},
      "radius": {"datum": 3.5, "type": "quantitative", "scale": {"type": "linear", "domain": [0, 3], "range": [0, 137.4], "nice": false}}, "text": {"field": "co"}}}
   ]},
  {"data": {"values": [{}]}, "mark": {"type": "rule", "color": "#a6a6a6", "strokeWidth": 1.5}, "encoding": {"x": {"datum": 0, "type": "quantitative", "scale": {"domain": [0, 1], "nice": false}, "axis": null}, "y": {"datum": 0.00241, "type": "quantitative", "scale": {"domain": [0, 1], "nice": false}, "axis": null}, "y2": {"datum": 0.99759}}},
  {"data": {"values": [{}]}, "mark": {"type": "rule", "color": "#a6a6a6", "strokeWidth": 1.5}, "encoding": {"x": {"datum": 0, "type": "quantitative", "scale": {"domain": [0, 1], "nice": false}, "axis": null}, "x2": {"datum": 1}, "y": {"datum": 0.99759, "type": "quantitative", "scale": {"domain": [0, 1], "nice": false}, "axis": null}}},
  {"data": {"values": [{}]}, "mark": {"type": "rule", "color": "#a6a6a6", "strokeWidth": 1.5}, "encoding": {"x": {"datum": 0, "type": "quantitative", "scale": {"domain": [0, 1], "nice": false}, "axis": null}, "x2": {"datum": 1}, "y": {"datum": 0.00241, "type": "quantitative", "scale": {"domain": [0, 1], "nice": false}, "axis": null}}},
  {"data": {"name": "panels"}, "transform": [{"filter": "datum.p == 'g'"}], "layer": [
   {"mark": {"type": "text", "fontSize": 28, "align": "left", "baseline": "alphabetic"}, "encoding": {"x": {"datum": 0.0688, "type": "quantitative", "scale": {"domain": [0, 1], "nice": false}, "axis": null}, "y": {"datum": 0.878, "type": "quantitative", "scale": {"domain": [0, 1], "nice": false}, "axis": null}, "text": {"field": "letter"}}},
   {"mark": {"type": "text", "fontSize": 22, "align": "left", "baseline": "alphabetic"}, "encoding": {"x": {"datum": 0.05, "type": "quantitative", "scale": {"domain": [0, 1], "nice": false}, "axis": null}, "y": {"datum": 0.033, "type": "quantitative", "scale": {"domain": [0, 1], "nice": false}, "axis": null}, "text": {"field": "ilab"}}}
  ]}
 ]},
 {"width": 360, "height": 311, "layer": [
  {"transform": [{"filter": "datum.p == 'h'"}],
   "encoding": {"x": {"datum": 0.488, "type": "quantitative", "scale": {"domain": [0, 1], "nice": false}, "axis": null}, "y": {"datum": 0.542, "type": "quantitative", "scale": {"domain": [0, 1], "nice": false}, "axis": null}},
   "layer": [
    {"mark": {"type": "arc", "stroke": "white", "strokeWidth": 1.5},
     "encoding": {"theta": {"field": "t0", "type": "quantitative", "stack": null, "scale": {"domain": [0, 360], "range": [1.5707963, -4.712389], "nice": false}}, "theta2": {"field": "t1"},
      "radius": {"field": "lvl", "type": "quantitative", "scale": {"type": "linear", "domain": [0, 3], "range": [0, 108.3], "nice": false}}, "radius2": {"field": "ri"},
      "color": {"field": "fuel", "type": "nominal", "scale": {"domain": ["Gas", "Oil", "Coal"], "range": ["#0b8fc7", "#f07820", "#5e5e5e"]}, "legend": null},
      "fillOpacity": {"condition": {"test": "datum.lvl == 3", "value": 0.7}, "value": 1}}},
    {"transform": [{"filter": "datum.lab"}], "mark": {"type": "text", "align": "center", "baseline": "middle"},
     "encoding": {"theta": {"field": "tm", "type": "quantitative", "scale": {"domain": [0, 360], "range": [1.5707963, -4.712389], "nice": false}},
      "radius": {"field": "rm", "type": "quantitative", "scale": {"type": "linear", "domain": [0, 3], "range": [0, 108.3], "nice": false}},
      "text": {"field": "lab"}, "angle": {"field": "rot", "type": "quantitative", "scale": null}, "size": {"field": "fs", "type": "quantitative", "scale": null}}},
    {"transform": [{"filter": "datum.co"}], "mark": {"type": "arc", "filled": false, "strokeWidth": 1},
     "encoding": {"theta": {"field": "tm", "type": "quantitative", "stack": null, "scale": {"domain": [0, 360], "range": [1.5707963, -4.712389], "nice": false}}, "theta2": {"field": "tm"},
      "radius": {"datum": 3.22, "type": "quantitative", "scale": {"type": "linear", "domain": [0, 3], "range": [0, 108.3], "nice": false}}, "radius2": {"datum": 2.75},
      "color": {"field": "fuel", "type": "nominal", "scale": {"domain": ["Gas", "Oil", "Coal"], "range": ["#0b8fc7", "#f07820", "#5e5e5e"]}, "legend": null}}},
    {"transform": [{"filter": "datum.co"}, {"window": [{"op": "lag", "field": "tm", "as": "ptm"}], "groupby": ["p"], "sort": [{"field": "tm"}]}, {"calculate": "datum.ptm == null ? 99 : datum.tm - datum.ptm", "as": "gap"}, {"calculate": "datum.la + (datum.gap < 9 ? 9 - datum.gap : 0)", "as": "la2"}],
     "mark": {"type": "text", "fontSize": 15, "align": "center", "baseline": "middle"},
     "encoding": {"theta": {"field": "la2", "type": "quantitative", "scale": {"domain": [0, 360], "range": [1.5707963, -4.712389], "nice": false}},
      "radius": {"datum": 3.5, "type": "quantitative", "scale": {"type": "linear", "domain": [0, 3], "range": [0, 108.3], "nice": false}}, "text": {"field": "co"}}}
   ]},
  {"data": {"values": [{}]}, "mark": {"type": "rule", "color": "#a6a6a6", "strokeWidth": 1.5}, "encoding": {"x": {"datum": 0, "type": "quantitative", "scale": {"domain": [0, 1], "nice": false}, "axis": null}, "y": {"datum": 0.00241, "type": "quantitative", "scale": {"domain": [0, 1], "nice": false}, "axis": null}, "y2": {"datum": 0.99759}}},
  {"data": {"values": [{}]}, "mark": {"type": "rule", "color": "#a6a6a6", "strokeWidth": 1.5}, "encoding": {"x": {"datum": 0, "type": "quantitative", "scale": {"domain": [0, 1], "nice": false}, "axis": null}, "x2": {"datum": 1}, "y": {"datum": 0.99759, "type": "quantitative", "scale": {"domain": [0, 1], "nice": false}, "axis": null}}},
  {"data": {"values": [{}]}, "mark": {"type": "rule", "color": "#a6a6a6", "strokeWidth": 1.5}, "encoding": {"x": {"datum": 0, "type": "quantitative", "scale": {"domain": [0, 1], "nice": false}, "axis": null}, "x2": {"datum": 1}, "y": {"datum": 0.00241, "type": "quantitative", "scale": {"domain": [0, 1], "nice": false}, "axis": null}}},
  {"data": {"name": "panels"}, "transform": [{"filter": "datum.p == 'h'"}], "layer": [
   {"mark": {"type": "text", "fontSize": 28, "align": "left", "baseline": "alphabetic"}, "encoding": {"x": {"datum": 0.0714, "type": "quantitative", "scale": {"domain": [0, 1], "nice": false}, "axis": null}, "y": {"datum": 0.866, "type": "quantitative", "scale": {"domain": [0, 1], "nice": false}, "axis": null}, "text": {"field": "letter"}}},
   {"mark": {"type": "text", "fontSize": 22, "align": "left", "baseline": "alphabetic"}, "encoding": {"x": {"datum": 0.0528, "type": "quantitative", "scale": {"domain": [0, 1], "nice": false}, "axis": null}, "y": {"datum": 0.033, "type": "quantitative", "scale": {"domain": [0, 1], "nice": false}, "axis": null}, "text": {"field": "ilab"}}}
  ]}
 ]},
 {"width": 350, "height": 311, "layer": [
  {"transform": [{"filter": "datum.p == 'i'"}],
   "encoding": {"x": {"datum": 0.492, "type": "quantitative", "scale": {"domain": [0, 1], "nice": false}, "axis": null}, "y": {"datum": 0.548, "type": "quantitative", "scale": {"domain": [0, 1], "nice": false}, "axis": null}},
   "layer": [
    {"mark": {"type": "arc", "stroke": "white", "strokeWidth": 1.5},
     "encoding": {"theta": {"field": "t0", "type": "quantitative", "stack": null, "scale": {"domain": [0, 360], "range": [1.5707963, -4.712389], "nice": false}}, "theta2": {"field": "t1"},
      "radius": {"field": "lvl", "type": "quantitative", "scale": {"type": "linear", "domain": [0, 3], "range": [0, 111], "nice": false}}, "radius2": {"field": "ri"},
      "color": {"field": "fuel", "type": "nominal", "scale": {"domain": ["Gas", "Oil", "Coal"], "range": ["#0b8fc7", "#f07820", "#5e5e5e"]}, "legend": null},
      "fillOpacity": {"condition": {"test": "datum.lvl == 3", "value": 0.7}, "value": 1}}},
    {"transform": [{"filter": "datum.lab"}], "mark": {"type": "text", "align": "center", "baseline": "middle"},
     "encoding": {"theta": {"field": "tm", "type": "quantitative", "scale": {"domain": [0, 360], "range": [1.5707963, -4.712389], "nice": false}},
      "radius": {"field": "rm", "type": "quantitative", "scale": {"type": "linear", "domain": [0, 3], "range": [0, 111], "nice": false}},
      "text": {"field": "lab"}, "angle": {"field": "rot", "type": "quantitative", "scale": null}, "size": {"field": "fs", "type": "quantitative", "scale": null}}},
    {"transform": [{"filter": "datum.co"}], "mark": {"type": "arc", "filled": false, "strokeWidth": 1},
     "encoding": {"theta": {"field": "tm", "type": "quantitative", "stack": null, "scale": {"domain": [0, 360], "range": [1.5707963, -4.712389], "nice": false}}, "theta2": {"field": "tm"},
      "radius": {"datum": 3.22, "type": "quantitative", "scale": {"type": "linear", "domain": [0, 3], "range": [0, 111], "nice": false}}, "radius2": {"datum": 2.75},
      "color": {"field": "fuel", "type": "nominal", "scale": {"domain": ["Gas", "Oil", "Coal"], "range": ["#0b8fc7", "#f07820", "#5e5e5e"]}, "legend": null}}},
    {"transform": [{"filter": "datum.co"}, {"window": [{"op": "lag", "field": "tm", "as": "ptm"}], "groupby": ["p"], "sort": [{"field": "tm"}]}, {"calculate": "datum.ptm == null ? 99 : datum.tm - datum.ptm", "as": "gap"}, {"calculate": "datum.la + (datum.gap < 9 ? 9 - datum.gap : 0)", "as": "la2"}],
     "mark": {"type": "text", "fontSize": 15, "align": "center", "baseline": "middle"},
     "encoding": {"theta": {"field": "la2", "type": "quantitative", "scale": {"domain": [0, 360], "range": [1.5707963, -4.712389], "nice": false}},
      "radius": {"datum": 3.5, "type": "quantitative", "scale": {"type": "linear", "domain": [0, 3], "range": [0, 111], "nice": false}}, "text": {"field": "co"}}}
   ]},
  {"data": {"values": [{}]}, "mark": {"type": "rule", "color": "#a6a6a6", "strokeWidth": 1.5}, "encoding": {"x": {"datum": 0, "type": "quantitative", "scale": {"domain": [0, 1], "nice": false}, "axis": null}, "y": {"datum": 0.00241, "type": "quantitative", "scale": {"domain": [0, 1], "nice": false}, "axis": null}, "y2": {"datum": 0.99759}}},
  {"data": {"values": [{}]}, "mark": {"type": "rule", "color": "#a6a6a6", "strokeWidth": 1.5}, "encoding": {"x": {"datum": 0, "type": "quantitative", "scale": {"domain": [0, 1], "nice": false}, "axis": null}, "x2": {"datum": 0.99786}, "y": {"datum": 0.99759, "type": "quantitative", "scale": {"domain": [0, 1], "nice": false}, "axis": null}}},
  {"data": {"values": [{}]}, "mark": {"type": "rule", "color": "#a6a6a6", "strokeWidth": 1.5}, "encoding": {"x": {"datum": 0, "type": "quantitative", "scale": {"domain": [0, 1], "nice": false}, "axis": null}, "x2": {"datum": 0.99786}, "y": {"datum": 0.00241, "type": "quantitative", "scale": {"domain": [0, 1], "nice": false}, "axis": null}}},
  {"data": {"name": "panels"}, "transform": [{"filter": "datum.p == 'i'"}], "layer": [
   {"mark": {"type": "text", "fontSize": 28, "align": "left", "baseline": "alphabetic"}, "encoding": {"x": {"datum": 0.1306, "type": "quantitative", "scale": {"domain": [0, 1], "nice": false}, "axis": null}, "y": {"datum": 0.866, "type": "quantitative", "scale": {"domain": [0, 1], "nice": false}, "axis": null}, "text": {"field": "letter"}}},
   {"mark": {"type": "text", "fontSize": 22, "align": "left", "baseline": "alphabetic"}, "encoding": {"x": {"datum": 0.0494, "type": "quantitative", "scale": {"domain": [0, 1], "nice": false}, "axis": null}, "y": {"datum": 0.033, "type": "quantitative", "scale": {"domain": [0, 1], "nice": false}, "axis": null}, "text": {"field": "ilab"}}}
  ]}
 ]}
], "spacing": 0, "bounds": "flush"},

{"width": 1116, "height": 168, "layer": [
 {"data": {"name": "icon"},
  "transform": [{"window": [{"op": "sum", "field": "v", "as": "c1"}], "groupby": ["lvl"], "frame": [null, 0]}, {"calculate": "datum.c1 - datum.v", "as": "c0"}],
  "encoding": {"x": {"datum": 0.1371, "type": "quantitative", "scale": {"domain": [0, 1], "nice": false}, "axis": null}, "y": {"datum": 0.1131, "type": "quantitative", "scale": {"domain": [0, 1], "nice": false, "reverse": true}, "axis": null},
   "theta": {"field": "c0", "type": "quantitative", "stack": null, "scale": {"domain": [0, 3], "range": [3.1415927, 3.6515927], "nice": false}}, "theta2": {"field": "c1"},
   "color": {"field": "fuel", "type": "nominal", "scale": {"domain": ["Gas", "Oil", "Coal"], "range": ["#0b8fc7", "#f07820", "#5e5e5e"]}, "legend": null}},
  "layer": [
   {"transform": [{"filter": "datum.lvl == 2"}], "mark": {"type": "arc", "radius": 68, "radius2": 20, "stroke": "white", "strokeWidth": 1.5}},
   {"transform": [{"filter": "datum.lvl == 3"}], "mark": {"type": "arc", "radius": 147, "radius2": 68, "stroke": "white", "strokeWidth": 1.5, "fillOpacity": 0.7}}
  ]},
 {"data": {"values": [{}]}, "mark": {"type": "rule", "color": "#a6a6a6", "strokeWidth": 1.5}, "encoding": {"x": {"datum": 0.0256, "type": "quantitative", "scale": {"domain": [0, 1], "nice": false}, "axis": null}, "x2": {"datum": 0.99933}, "y": {"datum": 0.2262, "type": "quantitative", "scale": {"domain": [0, 1], "nice": false, "reverse": true}, "axis": null}}},
 {"data": {"values": [{}]}, "mark": {"type": "rule", "color": "#a6a6a6", "strokeWidth": 1.5}, "encoding": {"x": {"datum": 0.0256, "type": "quantitative", "scale": {"domain": [0, 1], "nice": false}, "axis": null}, "x2": {"datum": 0.99933}, "y": {"datum": 0.4821, "type": "quantitative", "scale": {"domain": [0, 1], "nice": false, "reverse": true}, "axis": null}}},
 {"data": {"values": [{}]}, "mark": {"type": "rule", "color": "#a6a6a6", "strokeWidth": 1.5}, "encoding": {"x": {"datum": 0.0256, "type": "quantitative", "scale": {"domain": [0, 1], "nice": false}, "axis": null}, "y": {"datum": 0.2262, "type": "quantitative", "scale": {"domain": [0, 1], "nice": false, "reverse": true}, "axis": null}, "y2": {"datum": 0.99554}}},
 {"data": {"values": [{}]}, "mark": {"type": "rule", "color": "#a6a6a6", "strokeWidth": 1.5}, "encoding": {"x": {"datum": 0.1371, "type": "quantitative", "scale": {"domain": [0, 1], "nice": false}, "axis": null}, "y": {"datum": 0.2262, "type": "quantitative", "scale": {"domain": [0, 1], "nice": false, "reverse": true}, "axis": null}, "y2": {"datum": 0.99554}}},
 {"data": {"values": [{}]}, "mark": {"type": "rule", "color": "#a6a6a6", "strokeWidth": 1.5}, "encoding": {"x": {"datum": 0.2706, "type": "quantitative", "scale": {"domain": [0, 1], "nice": false}, "axis": null}, "y": {"datum": 0.2262, "type": "quantitative", "scale": {"domain": [0, 1], "nice": false, "reverse": true}, "axis": null}, "y2": {"datum": 0.99554}}},
 {"data": {"values": [{}]}, "mark": {"type": "rule", "color": "#a6a6a6", "strokeWidth": 1.5}, "encoding": {"x": {"datum": 0.3862, "type": "quantitative", "scale": {"domain": [0, 1], "nice": false}, "axis": null}, "y": {"datum": 0.2262, "type": "quantitative", "scale": {"domain": [0, 1], "nice": false, "reverse": true}, "axis": null}, "y2": {"datum": 0.99554}}},
 {"data": {"values": [{}]}, "mark": {"type": "rule", "color": "#a6a6a6", "strokeWidth": 1.5}, "encoding": {"x": {"datum": 0.4955, "type": "quantitative", "scale": {"domain": [0, 1], "nice": false}, "axis": null}, "y": {"datum": 0.2262, "type": "quantitative", "scale": {"domain": [0, 1], "nice": false, "reverse": true}, "axis": null}, "y2": {"datum": 0.99554}}},
 {"data": {"values": [{}]}, "mark": {"type": "rule", "color": "#a6a6a6", "strokeWidth": 1.5}, "encoding": {"x": {"datum": 0.5923, "type": "quantitative", "scale": {"domain": [0, 1], "nice": false}, "axis": null}, "y": {"datum": 0.2262, "type": "quantitative", "scale": {"domain": [0, 1], "nice": false, "reverse": true}, "axis": null}, "y2": {"datum": 0.99554}}},
 {"data": {"values": [{}]}, "mark": {"type": "rule", "color": "#a6a6a6", "strokeWidth": 1.5}, "encoding": {"x": {"datum": 0.7177, "type": "quantitative", "scale": {"domain": [0, 1], "nice": false}, "axis": null}, "y": {"datum": 0.2262, "type": "quantitative", "scale": {"domain": [0, 1], "nice": false, "reverse": true}, "axis": null}, "y2": {"datum": 0.99554}}},
 {"data": {"values": [{}]}, "mark": {"type": "rule", "color": "#a6a6a6", "strokeWidth": 1.5}, "encoding": {"x": {"datum": 0.8754, "type": "quantitative", "scale": {"domain": [0, 1], "nice": false}, "axis": null}, "y": {"datum": 0.2262, "type": "quantitative", "scale": {"domain": [0, 1], "nice": false, "reverse": true}, "axis": null}, "y2": {"datum": 0.99554}}},
 {"data": {"values": [{"t": "Abbreviation list"}]}, "mark": {"type": "text", "fontSize": 16, "align": "left", "baseline": "alphabetic"},
  "encoding": {"x": {"datum": 0.0251, "type": "quantitative", "scale": {"domain": [0, 1], "nice": false}, "axis": null}, "y": {"datum": 0.1935, "type": "quantitative", "scale": {"domain": [0, 1], "nice": false, "reverse": true}, "axis": null}, "text": {"field": "t"}}},
 {"data": {"values": [{"t": "Middle layer"}]}, "mark": {"type": "text", "fontSize": 16, "align": "left", "baseline": "middle"},
  "encoding": {"x": {"datum": 0.02966, "type": "quantitative", "scale": {"domain": [0, 1], "nice": false}, "axis": null}, "y": {"datum": 0.3542, "type": "quantitative", "scale": {"domain": [0, 1], "nice": false, "reverse": true}, "axis": null}, "text": {"field": "t"}}},
 {"data": {"values": [{"t": "PP: Preparation"}]}, "mark": {"type": "text", "fontSize": 16, "align": "left", "baseline": "middle"},
  "encoding": {"x": {"datum": 0.1595, "type": "quantitative", "scale": {"domain": [0, 1], "nice": false}, "axis": null}, "y": {"datum": 0.3542, "type": "quantitative", "scale": {"domain": [0, 1], "nice": false, "reverse": true}, "axis": null}, "text": {"field": "t"}}},
 {"data": {"values": [{"t": "PC: Processing"}]}, "mark": {"type": "text", "fontSize": 16, "align": "left", "baseline": "middle"},
  "encoding": {"x": {"datum": 0.276, "type": "quantitative", "scale": {"domain": [0, 1], "nice": false}, "axis": null}, "y": {"datum": 0.3542, "type": "quantitative", "scale": {"domain": [0, 1], "nice": false, "reverse": true}, "axis": null}, "text": {"field": "t"}}},
 {"data": {"values": [{"t": "SR: Storage"}]}, "mark": {"type": "text", "fontSize": 16, "align": "left", "baseline": "middle"},
  "encoding": {"x": {"datum": 0.391, "type": "quantitative", "scale": {"domain": [0, 1], "nice": false}, "axis": null}, "y": {"datum": 0.3542, "type": "quantitative", "scale": {"domain": [0, 1], "nice": false, "reverse": true}, "axis": null}, "text": {"field": "t"}}},
 {"data": {"values": [{"t": "RF: Refinery"}]}, "mark": {"type": "text", "fontSize": 16, "align": "left", "baseline": "middle"},
  "encoding": {"x": {"datum": 0.5014, "type": "quantitative", "scale": {"domain": [0, 1], "nice": false}, "axis": null}, "y": {"datum": 0.3542, "type": "quantitative", "scale": {"domain": [0, 1], "nice": false, "reverse": true}, "axis": null}, "text": {"field": "t"}}},
 {"data": {"values": [{"t": "EX: Extraction"}]}, "mark": {"type": "text", "fontSize": 16, "align": "left", "baseline": "middle"},
  "encoding": {"x": {"datum": 0.5977, "type": "quantitative", "scale": {"domain": [0, 1], "nice": false}, "axis": null}, "y": {"datum": 0.3542, "type": "quantitative", "scale": {"domain": [0, 1], "nice": false, "reverse": true}, "axis": null}, "text": {"field": "t"}}},
 {"data": {"values": [{"t": "TV: Transport Vehicle"}]}, "mark": {"type": "text", "fontSize": 16, "align": "left", "baseline": "middle"},
  "encoding": {"x": {"datum": 0.7249, "type": "quantitative", "scale": {"domain": [0, 1], "nice": false}, "axis": null}, "y": {"datum": 0.3542, "type": "quantitative", "scale": {"domain": [0, 1], "nice": false, "reverse": true}, "axis": null}, "text": {"field": "t"}}},
 {"data": {"values": [{"t": "PL: Pipeline"}]}, "mark": {"type": "text", "fontSize": 16, "align": "left", "baseline": "middle"},
  "encoding": {"x": {"datum": 0.8808, "type": "quantitative", "scale": {"domain": [0, 1], "nice": false}, "axis": null}, "y": {"datum": 0.3542, "type": "quantitative", "scale": {"domain": [0, 1], "nice": false, "reverse": true}, "axis": null}, "text": {"field": "t"}}},
 {"data": {"values": [{"t": "Outer layer"}]}, "mark": {"type": "text", "fontSize": 16, "align": "left", "baseline": "top", "lineBreak": "\n", "lineHeight": 22.7},
  "encoding": {"x": {"datum": 0.02966, "type": "quantitative", "scale": {"domain": [0, 1], "nice": false}, "axis": null}, "y": {"datum": 0.5119, "type": "quantitative", "scale": {"domain": [0, 1], "nice": false, "reverse": true}, "axis": null}, "text": {"field": "t"}}},
 {"data": {"values": [{"t": "C/S: Crude Oil\nP/S: Product"}]}, "mark": {"type": "text", "fontSize": 16, "align": "left", "baseline": "top", "lineBreak": "\n", "lineHeight": 22.7},
  "encoding": {"x": {"datum": 0.391, "type": "quantitative", "scale": {"domain": [0, 1], "nice": false}, "axis": null}, "y": {"datum": 0.5119, "type": "quantitative", "scale": {"domain": [0, 1], "nice": false, "reverse": true}, "axis": null}, "text": {"field": "t"}}},
 {"data": {"values": [{"t": "UG: Underground\nOC: Open Cast\nON: Onshore\nOF: Offshore"}]}, "mark": {"type": "text", "fontSize": 16, "align": "left", "baseline": "top", "lineBreak": "\n", "lineHeight": 22.7},
  "encoding": {"x": {"datum": 0.595, "type": "quantitative", "scale": {"domain": [0, 1], "nice": false}, "axis": null}, "y": {"datum": 0.5119, "type": "quantitative", "scale": {"domain": [0, 1], "nice": false, "reverse": true}, "axis": null}, "text": {"field": "t"}}},
 {"data": {"values": [{"t": "RC: Rail Cargo\nIS: Inland Ship\nOS: Ocean Ship\nTK: Truck"}]}, "mark": {"type": "text", "fontSize": 16, "align": "left", "baseline": "top", "lineBreak": "\n", "lineHeight": 22.7},
  "encoding": {"x": {"datum": 0.7249, "type": "quantitative", "scale": {"domain": [0, 1], "nice": false}, "axis": null}, "y": {"datum": 0.5119, "type": "quantitative", "scale": {"domain": [0, 1], "nice": false, "reverse": true}, "axis": null}, "text": {"field": "t"}}},
 {"data": {"values": [{"t": "TM: Transmission\nDB: Distribution\nC/P: Crude Oil\nP/P: Product"}]}, "mark": {"type": "text", "fontSize": 16, "align": "left", "baseline": "top", "lineBreak": "\n", "lineHeight": 22.7},
  "encoding": {"x": {"datum": 0.8781, "type": "quantitative", "scale": {"domain": [0, 1], "nice": false}, "axis": null}, "y": {"datum": 0.5119, "type": "quantitative", "scale": {"domain": [0, 1], "nice": false, "reverse": true}, "axis": null}, "text": {"field": "t"}}}
]}
]
}
